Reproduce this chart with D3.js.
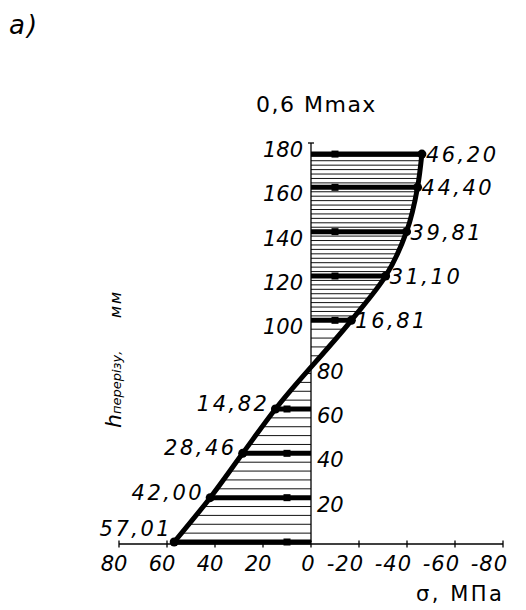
<!DOCTYPE html>
<html>
<head>
<meta charset="utf-8">
<script src="https://cdn.jsdelivr.net/npm/d3@7"></script>
<style>
  html, body { margin: 0; padding: 0; background: #fff; }
  svg { display: block; }
  text { font-family: "DejaVu Sans", sans-serif; fill: #000; }
  .it { font-style: italic; }
</style>
</head>
<body>
<svg id="chart" width="526" height="610"></svg>
<script>
// Normal stress distribution over the section height at 0,6 Mmax
const sectionHeights = [0, 20, 40, 60, 100, 120, 140, 160, 175];           // h, mm
const sectionStress  = [57.01, 42.00, 28.46, 14.82, -16.81, -31.10, -39.81, -44.40, -46.20]; // σ, MPa
const stressTicks = [80, 60, 40, 20, 0, -20, -40, -60, -80];
const heightTicksLeft = [180, 160, 140, 120, 100];
const heightTicksRight = [80, 60, 40, 20];
const markerStress = 10;   // small reference mark on every ordinate, |σ| = 10 MPa

const svg = d3.select("#chart");

const x = d3.scaleLinear().domain([80, -80]).range([119, 503]);
const y = d3.scaleLinear().domain([0, 180]).range([542, 143]);

const fmt = v => d3.format(".2f")(Math.abs(v)).replace(".", ",");

// points ordered from the top of the section downwards (pixel y increasing)
const pts = sectionHeights.map((h, i) => ({ h, s: sectionStress[i] }))
  .sort((a, b) => b.h - a.h);

// hatched area between the axis and the stress curve
const area = d3.area()
  .curve(d3.curveMonotoneY)
  .y(d => y(d.h))
  .x0(x(0))
  .x1(d => x(d.s));

svg.append("clipPath").attr("id", "epure")
  .append("path").attr("d", area(pts));

const hatchLevels = d3.range(0, 100, 4).concat(d3.range(100, 176, 2));
svg.append("g").attr("clip-path", "url(#epure)")
  .selectAll("line").data(hatchLevels).join("line")
  .attr("x1", x(70)).attr("x2", x(-70))
  .attr("y1", d => y(d)).attr("y2", d => y(d))
  .attr("stroke", "#111").attr("stroke-width", 1);

// x axis (stress)
const xAxisY = y(0) + 2;
svg.append("line")
  .attr("x1", x(80)).attr("x2", x(-80))
  .attr("y1", xAxisY).attr("y2", xAxisY)
  .attr("stroke", "#000").attr("stroke-width", 1.3);
svg.append("g").selectAll("line").data(stressTicks).join("line")
  .attr("x1", d => x(d)).attr("x2", d => x(d))
  .attr("y1", xAxisY - 3.5).attr("y2", xAxisY + 3.5)
  .attr("stroke", "#000").attr("stroke-width", 1.3);

svg.append("g").selectAll("text").data(stressTicks).join("text")
  .attr("class", "it")
  .attr("x", d => d > 0 ? x(d) - 5 : (d === 0 ? x(d) - 3 : x(d) + 5))
  .attr("y", 571)
  .attr("text-anchor", d => d >= 0 ? "middle" : "end")
  .attr("font-size", 21)
  .attr("letter-spacing", d => d < 0 ? 1 : 0)
  .text(d => d < 0 ? "-" + Math.abs(d) : d);

// y axis (section height)
svg.append("line")
  .attr("x1", x(0)).attr("x2", x(0))
  .attr("y1", y(0)).attr("y2", y(180))
  .attr("stroke", "#000").attr("stroke-width", 1.3);
svg.append("line")
  .attr("x1", x(0) - 3).attr("x2", x(0) + 3)
  .attr("y1", y(180)).attr("y2", y(180))
  .attr("stroke", "#000").attr("stroke-width", 1.3);

svg.append("g").selectAll("text").data(heightTicksLeft).join("text")
  .attr("class", "it")
  .attr("x", x(0) - 8).attr("y", d => y(d) + 14)
  .attr("text-anchor", "end").attr("font-size", 21)
  .text(d => d);
svg.append("g").selectAll("text").data(heightTicksRight).join("text")
  .attr("class", "it")
  .attr("x", x(0) + 6).attr("y", d => y(d) + 14)
  .attr("text-anchor", "start").attr("font-size", 21)
  .text(d => d);

// ordinates of the diagram
svg.append("g").selectAll("line").data(pts).join("line")
  .attr("x1", x(0)).attr("x2", d => x(d.s))
  .attr("y1", d => y(d.h)).attr("y2", d => y(d.h))
  .attr("stroke", "#000").attr("stroke-width", 5);

svg.append("g").selectAll("rect").data(pts).join("rect")
  .attr("x", d => x(Math.sign(d.s) * markerStress) - 3.5)
  .attr("y", d => y(d.h) - 3.5)
  .attr("width", 7).attr("height", 7)
  .attr("fill", "#000");

// stress curve
svg.append("path")
  .attr("d", d3.line().curve(d3.curveMonotoneY).x(d => x(d.s)).y(d => y(d.h))(pts))
  .attr("fill", "none").attr("stroke", "#000")
  .attr("stroke-width", 5).attr("stroke-linejoin", "round").attr("stroke-linecap", "round");

svg.append("g").selectAll("circle").data(pts).join("circle")
  .attr("cx", d => x(d.s)).attr("cy", d => y(d.h)).attr("r", 4.5)
  .attr("fill", "#000");

// value labels
svg.append("g").selectAll("text").data(pts).join("text")
  .attr("class", "it")
  .attr("x", d => d.s < 0 ? x(d.s) + 4 : (d.h === 0 ? x(d.s) - 2 : x(d.s) - 6))
  .attr("y", d => d.s < 0 ? y(d.h) + 8 : (d.h === 0 ? y(d.h) - 6 : y(d.h) + 2))
  .attr("text-anchor", d => d.s < 0 ? "start" : "end")
  .attr("font-size", 21).attr("letter-spacing", 2.5)
  .text(d => fmt(d.s));

// titles
svg.append("text").attr("class", "it")
  .attr("x", 9).attr("y", 34).attr("font-size", 26).attr("letter-spacing", 2)
  .text("a)");

svg.append("text")
  .attr("x", 256).attr("y", 112).attr("font-size", 22).attr("letter-spacing", 1.5)
  .text("0,6 Mmax");

svg.append("text")
  .attr("x", 416).attr("y", 601).attr("font-size", 21).attr("letter-spacing", 2.5)
  .text("σ, МПа");

const yTitle = svg.append("text").attr("class", "it")
  .attr("transform", "translate(121,428) rotate(-90)");
yTitle.append("tspan").attr("font-size", 22).text("h");
yTitle.append("tspan").attr("font-size", 13).text("перерізу,");
yTitle.append("tspan").attr("x", 110).attr("font-size", 16).attr("letter-spacing", 2).text("мм");
</script>
</body>
</html>
